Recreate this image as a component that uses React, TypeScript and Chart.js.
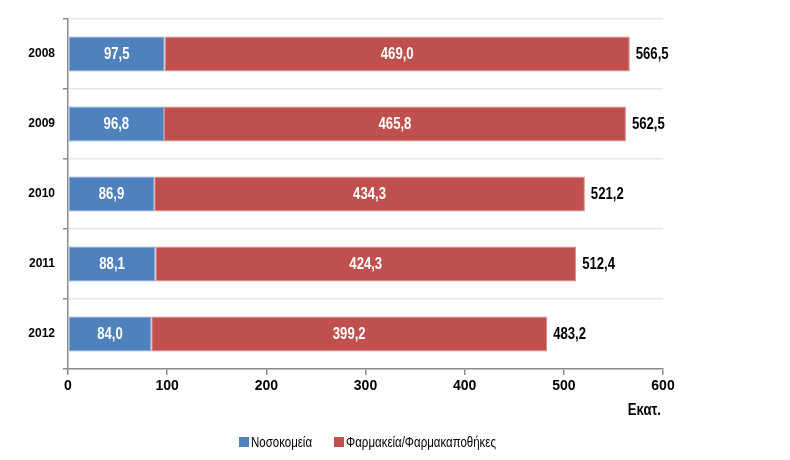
import React, { useEffect, useRef } from "react";
import { Chart, registerables } from "chart.js";

Chart.register(...registerables);

const years = ["2008", "2009", "2010", "2011", "2012"];
const hospitals = [97.5, 96.8, 86.9, 88.1, 84.0];
const pharmacies = [469.0, 465.8, 434.3, 424.3, 399.2];
const totals = [566.5, 562.5, 521.2, 512.4, 483.2];
const seriesNames = ["Νοσοκομεία", "Φαρμακεία/Φαρμακαποθήκες"];
const unitLabel = "Εκατ.";
const xTicks = [0, 100, 200, 300, 400, 500, 600];

const FONT = "'Liberation Sans', Arial, sans-serif";
const BLUE = "#4F81BD";
const RED = "#C0504D";
const NARROW = 0.82;

const fmt = (v: number) => v.toFixed(1).replace(".", ",");

function narrowText(ctx: any, text: string, x: number, y: number, align: string) {
  const w = ctx.measureText(text).width * NARROW;
  let left = x;
  if (align === "center") left = x - w / 2;
  else if (align === "right") left = x - w;
  ctx.save();
  ctx.translate(left, y);
  ctx.scale(NARROW, 1);
  ctx.textAlign = "left";
  ctx.fillText(text, 0, 0);
  ctx.restore();
  return w;
}

const labelPlugin = {
  id: "labelsAndLegend",
  afterDatasetsDraw(chart: any) {
    const ctx = chart.ctx;
    ctx.save();
    ctx.textBaseline = "middle";
    ctx.font = `bold 16px ${FONT}`;
    chart.data.datasets.forEach((ds: any, di: number) => {
      const meta = chart.getDatasetMeta(di);
      meta.data.forEach((bar: any, i: number) => {
        const { x, y, base } = bar.getProps(["x", "y", "base"], true);
        ctx.fillStyle = "#ffffff";
        narrowText(ctx, fmt(ds.data[i]), (x + base) / 2, y + 1, "center");
      });
    });
    const last = chart.getDatasetMeta(chart.data.datasets.length - 1);
    last.data.forEach((bar: any, i: number) => {
      const { x, y } = bar.getProps(["x", "y"], true);
      ctx.fillStyle = "#000000";
      narrowText(ctx, fmt(totals[i]), x + 6, y + 1, "left");
    });
    const xs = chart.scales.x;
    ctx.fillStyle = "#000000";
    narrowText(ctx, unitLabel, xs.right - 2, 411, "right");
    // legend
    const items = [
      { c: BLUE, t: seriesNames[0] },
      { c: RED, t: seriesNames[1] },
    ];
    ctx.font = `14px ${FONT}`;
    const box = 10;
    const gapBoxText = 2;
    const gapItems = 22;
    const widths = items.map((it) => box + gapBoxText + ctx.measureText(it.t).width * NARROW);
    const total = widths[0] + widths[1] + gapItems;
    const center = (chart.chartArea.left + chart.chartArea.right) / 2 + 2;
    let lx = center - total / 2;
    const ly = 442;
    items.forEach((it, k) => {
      ctx.fillStyle = it.c;
      ctx.fillRect(Math.round(lx), ly - box / 2, box, box);
      ctx.fillStyle = "#000000";
      narrowText(ctx, it.t, lx + box + gapBoxText, ly + 1, "left");
      lx += widths[k] + gapItems;
    });
    ctx.restore();
  },
};

export default function App() {
  const ref = useRef<HTMLCanvasElement | null>(null);
  useEffect(() => {
    if (!ref.current) return;
    const chart = new Chart(ref.current, {
      type: "bar",
      data: {
        labels: years,
        datasets: [
          {
            label: seriesNames[0],
            data: hospitals,
            backgroundColor: BLUE,
            borderColor: "#7fa3d3",
            borderWidth: 1,
            borderSkipped: false,
          },
          {
            label: seriesNames[1],
            data: pharmacies,
            backgroundColor: RED,
            borderColor: "#d88a88",
            borderWidth: 1,
            borderSkipped: false,
          },
        ],
      },
      options: {
        indexAxis: "y",
        responsive: false,
        animation: false,
        devicePixelRatio: 1,
        layout: { padding: { top: 19, right: 127, bottom: 50, left: 0 } },
        categoryPercentage: 1,
        barPercentage: 0.5,
        plugins: {
          legend: { display: false },
          tooltip: { enabled: false },
        },
        scales: {
          x: {
            stacked: true,
            min: 0,
            max: 600,
            afterBuildTicks: (s: any) => {
              s.ticks = xTicks.map((v) => ({ value: v }));
            },
            afterFit: (s: any) => {
              s.height = 41;
            },
            grid: {
              drawOnChartArea: false,
              drawTicks: true,
              tickLength: 6,
              tickColor: "#8c8c8c",
              lineWidth: 1.5,
            },
            border: { color: "#8c8c8c", width: 1.5 },
            ticks: {
              color: "#000",
              font: { family: FONT, size: 14, weight: "bold" },
              padding: 3,
              maxRotation: 0,
            },
          },
          y: {
            stacked: true,
            afterFit: (s: any) => {
              s.width = 68;
            },
            grid: {
              offset: true,
              color: "#e8e8e8",
              lineWidth: 1.5,
              drawTicks: true,
              tickLength: 5,
              tickColor: "#8c8c8c",
            },
            border: { color: "#8c8c8c", width: 1.5 },
            ticks: {
              color: "#000",
              font: { family: FONT, size: 12, weight: "bold" },
              padding: 8,
            },
          },
        },
      },
      plugins: [labelPlugin],
    } as any);
    return () => chart.destroy();
  }, []);
  return (
    <div style={{ position: "absolute", left: 0, top: 0, width: 790, height: 460, background: "#fff" }}>
      <canvas ref={ref} width={790} height={460} style={{ width: 790, height: 460, display: "block" }} />
    </div>
  );
}
